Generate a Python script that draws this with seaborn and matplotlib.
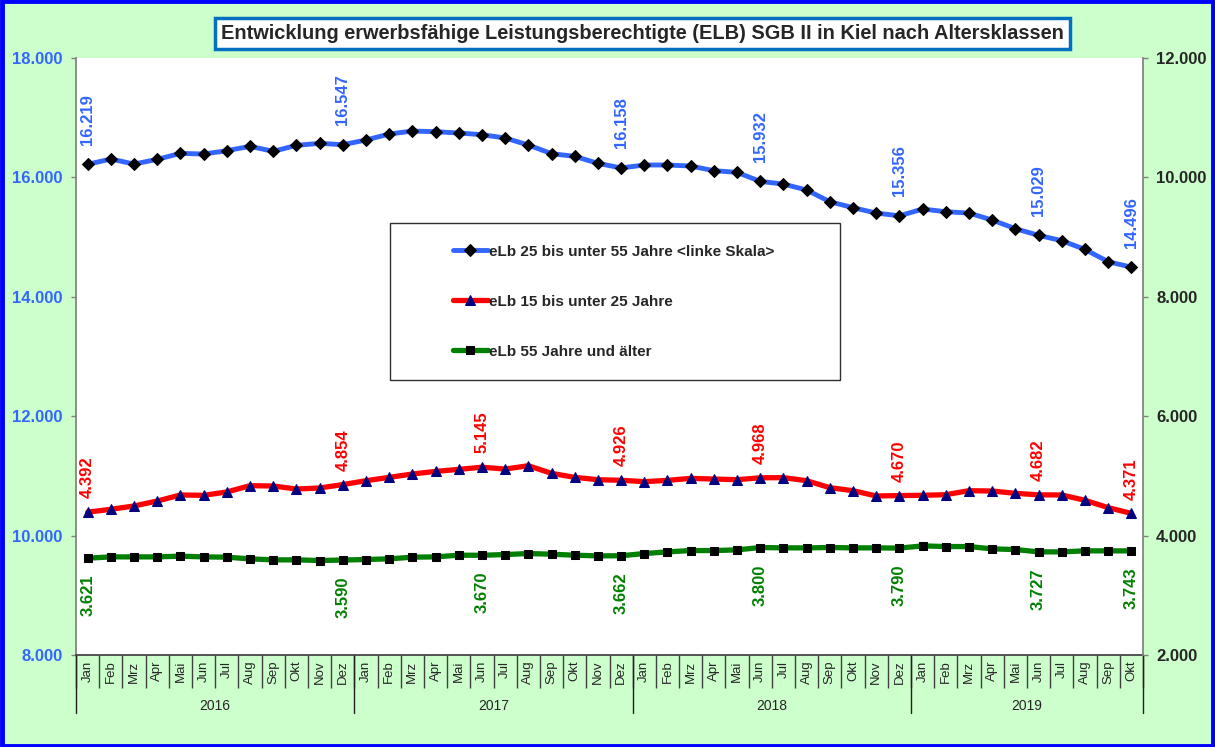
import numpy as np
import pandas as pd
import matplotlib
matplotlib.use("Agg")
import matplotlib.pyplot as plt
from matplotlib.patches import Rectangle
from matplotlib.ticker import FuncFormatter
import seaborn as sns

# Monatswerte Jan 2016 - Okt 2019
months = ['Jan', 'Feb', 'Mrz', 'Apr', 'Mai', 'Jun', 'Jul', 'Aug', 'Sep', 'Okt', 'Nov', 'Dez']
years = ['2016', '2017', '2018', '2019']

elb_25_55 = [16219, 16307, 16223, 16302, 16402, 16391, 16447, 16520, 16436, 16536, 16570, 16547,
             16626, 16726, 16776, 16765, 16743, 16715, 16659, 16542, 16397, 16352, 16235, 16158,
             16207, 16207, 16190, 16112, 16084, 15932, 15888, 15788, 15592, 15492, 15402, 15356,
             15469, 15425, 15402, 15285, 15140, 15029, 14939, 14793, 14587, 14496]
elb_15_25 = [4392, 4440, 4496, 4579, 4680, 4674, 4730, 4836, 4830, 4780, 4797, 4854,
             4919, 4975, 5031, 5075, 5109, 5145, 5114, 5170, 5042, 4975, 4936, 4926,
             4903, 4925, 4958, 4947, 4936, 4968, 4970, 4919, 4802, 4752, 4663, 4670,
             4674, 4685, 4752, 4746, 4708, 4682, 4680, 4591, 4468, 4371]
elb_55 = [3621, 3643, 3643, 3643, 3655, 3643, 3638, 3610, 3593, 3593, 3582, 3590,
          3599, 3610, 3638, 3643, 3671, 3670, 3682, 3699, 3688, 3671, 3660, 3662,
          3699, 3727, 3749, 3749, 3760, 3800, 3794, 3794, 3800, 3794, 3794, 3790,
          3827, 3816, 3816, 3777, 3766, 3727, 3727, 3744, 3744, 3743]

# Monate mit Beschriftung
lbl_blue = [0, 11, 23, 29, 35, 41, 45]
lbl_other = [0, 11, 17, 23, 29, 35, 41, 45]

legend_labels = ['eLb 25 bis unter 55 Jahre <linke Skala>',
                 'eLb 15 bis unter 25 Jahre',
                 'eLb 55 Jahre und älter']

n = len(elb_25_55)
month_labels = [months[i % 12] for i in range(n)]
df = pd.DataFrame({'idx': np.arange(n), 'blue': elb_25_55, 'red': elb_15_25, 'green': elb_55})

sns.set_theme(style='white')
plt.rcParams['font.family'] = ['Liberation Sans', 'DejaVu Sans']

BLUE = '#3366FF'
RED = '#FF0000'
GREEN = '#008000'
BG = '#CCFFCC'

fig = plt.figure(figsize=(12.15, 7.47), dpi=100, facecolor=BG)
ax = fig.add_axes([0.0626, 0.1232, 0.8781, 0.7992])
ax.set_facecolor('white')
ax2 = ax.twinx()

sns.lineplot(data=df, x='idx', y='blue', ax=ax, color=BLUE, lw=3.5, marker='D', markersize=6.5,
             markerfacecolor='black', markeredgecolor='black', legend=False)
sns.lineplot(data=df, x='idx', y='red', ax=ax2, color=RED, lw=3.8, marker='^', markersize=7.5,
             markerfacecolor='#000080', markeredgecolor='#000080', legend=False)
sns.lineplot(data=df, x='idx', y='green', ax=ax2, color=GREEN, lw=3.8, marker='s', markersize=5.5,
             markerfacecolor='black', markeredgecolor='black', legend=False)
handles = [ax.lines[0], ax2.lines[0], ax2.lines[1]]

ax.set_xlim(-0.5, n - 0.5)
ax.set_ylim(8000, 18000)
ax2.set_ylim(2000, 12000)
ax.set_yticks(np.arange(8000, 18001, 2000))
ax2.set_yticks(np.arange(2000, 12001, 2000))
fmt = FuncFormatter(lambda v, p: f'{v:,.0f}'.replace(',', '.'))
ax.yaxis.set_major_formatter(fmt)
ax2.yaxis.set_major_formatter(fmt)
ax.set_xlabel('')
ax.set_ylabel('')
ax2.set_ylabel('')

for lab in ax.get_yticklabels():
    lab.set_fontweight('bold')
    lab.set_color(BLUE)
    lab.set_fontsize(12)
for lab in ax2.get_yticklabels():
    lab.set_fontweight('bold')
    lab.set_fontsize(12)
ax.tick_params(axis='y', direction='out', length=3.5, color='#808080', width=1, pad=6, left=True)
ax2.tick_params(axis='y', direction='out', length=3.5, color='#808080', width=1, pad=6, right=True)

# x-Achse: Monate mit Trennstrichen
ax.set_xticks(np.arange(n))
ax.set_xticklabels(month_labels, rotation=90, fontsize=9.5)
ax.set_xticks(np.arange(-0.5, n), minor=True)
ax.tick_params(axis='x', which='major', length=0, pad=4)
ax.tick_params(axis='x', which='minor', direction='out', length=24, color='#404040', width=1, bottom=True)

for s in ['top', 'right']:
    ax.spines[s].set_visible(False)
for s in ['top', 'bottom', 'left']:
    ax2.spines[s].set_visible(False)
ax.spines['left'].set_color('#808080')
ax2.spines['right'].set_color('#808080')
ax.spines['bottom'].set_color('#404040')

# Jahresgruppen
trans = ax.get_xaxis_transform()
for b in [-0.5, 11.5, 23.5, 35.5, n - 0.5]:
    ax.plot([b, b], [0, -0.097], transform=trans, color='#202020', lw=1, clip_on=False)
for k, y in enumerate(years):
    start = k * 12 - 0.5
    end = min((k + 1) * 12, n) - 0.5
    ax.text((start + end) / 2, -0.085, y, transform=trans, ha='center', va='center', fontsize=10)

# Datenbeschriftungen
box = dict(boxstyle='square,pad=0.15', fc='white', ec='none')
for i in lbl_blue:
    ax.annotate(f'{elb_25_55[i]:,}'.replace(',', '.'), (i, elb_25_55[i]), xytext=(0, 14),
                textcoords='offset points', rotation=90, ha='center', va='bottom',
                color=BLUE, fontsize=12, fontweight='bold', bbox=box, zorder=6)
for i in lbl_other:
    ax2.annotate(f'{elb_15_25[i]:,}'.replace(',', '.'), (i, elb_15_25[i]), xytext=(0, 10),
                 textcoords='offset points', rotation=90, ha='center', va='bottom',
                 color=RED, fontsize=12, fontweight='bold', bbox=box, zorder=6)
    ax2.annotate(f'{elb_55[i]:,}'.replace(',', '.'), (i, elb_55[i]), xytext=(0, -12),
                 textcoords='offset points', rotation=90, ha='center', va='top',
                 color=GREEN, fontsize=12, fontweight='bold', bbox=box, zorder=6)

# Legende
ax2.add_patch(Rectangle((0.294, 0.461), 0.422, 0.263, transform=ax2.transAxes,
                        fc='white', ec='#303030', lw=1, zorder=7))
leg = ax2.legend(handles, legend_labels, loc='upper left', bbox_to_anchor=(0.346, 0.700),
                 frameon=False, borderpad=0, labelspacing=2.35, handlelength=2.3,
                 handletextpad=0.05, prop={'weight': 'bold', 'size': 11})
leg.set_zorder(8)

# Titel
fig.text(0.529, 0.955, 'Entwicklung erwerbsfähige Leistungsberechtigte (ELB) SGB II in Kiel nach Altersklassen',
         ha='center', va='center', fontsize=14.4, fontweight='bold',
         bbox=dict(boxstyle='square,pad=0.3', fc='white', ec='#0070C0', lw=2.5))

# Rahmen
fig.patches.append(Rectangle((0.0015, 0.002), 0.997, 0.996, transform=fig.transFigure,
                             fill=False, ec='#0000FF', lw=3.5))

fig.savefig('out.png', dpi=100, facecolor=BG)
